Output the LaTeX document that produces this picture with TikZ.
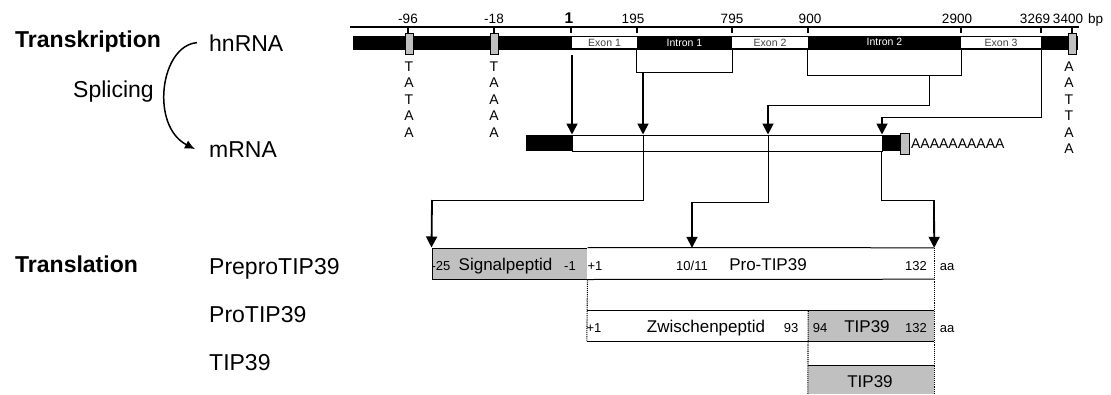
\documentclass[tikz,border=0pt]{standalone}
\usepackage{fontspec}
\setmainfont{Liberation Sans}
\usepackage{xcolor}
\usepackage{tikz}
\usetikzlibrary{positioning, arrows.meta}
\definecolor{boxgray}{RGB}{192,192,192}

\begin{document}
\begin{tikzpicture}[
    x=1pt, y=-1pt,
    lbl/.style={anchor=base west, inner sep=0pt, font=\fontsize{23}{27}\selectfont},
    headlbl/.style={anchor=base west, inner sep=0pt, font=\fontsize{23}{27}\selectfont\bfseries},
    bpnum/.style={anchor=base, inner sep=0pt, font=\fontsize{13.5}{16}\selectfont},
    bar/.style={fill=black, inner sep=0pt, minimum height=14pt},
    exon/.style={fill=white, inner sep=0pt, minimum height=11pt, text=black!75, font=\fontsize{10.5}{12}\selectfont},
    intron/.style={inner sep=0pt, minimum height=11pt, text=white, font=\fontsize{10.5}{12}\selectfont},
    tbox/.style={draw, fill=boxgray, line width=0.8pt, inner sep=0pt, minimum width=8pt, minimum height=21pt},
    tata/.style={anchor=north, align=center, inner sep=0pt, font=\fontsize{14}{16.5}\selectfont},
    pep/.style={anchor=base, inner sep=0pt, font=\fontsize{17}{20}\selectfont},
    num/.style={anchor=base, inner sep=0pt, font=\fontsize{13}{15}\selectfont},
    arr/.style={-{Triangle[length=11pt, width=11pt]}, line width=1.8pt},
    lnk/.style={line width=1pt},
    dotln/.style={densely dotted, line width=1.1pt}
]
    \useasboundingbox (0,0) rectangle (1111,394);

    % left labels
    \node[headlbl] (trans) at (15,47) {Transkription};
    \node[lbl] (hnl) at (209,51) {hnRNA};
    \node[lbl] (spl) at (73,97) {Splicing};
    \node[lbl] (ml) at (209,157) {mRNA};
    \node[headlbl] (transl) at (15,272) {Translation};
    \node[lbl] (ppl) at (209,274) {PreproTIP39};
    \node[lbl] (prl) at (209,322) {ProTIP39};
    \node[lbl] (tpl) at (209,370) {TIP39};
    \draw[-{Latex[length=10pt, width=9pt]}, line width=1.5pt]
        ([xshift=-12pt]hnl.west) .. controls +(-37,3) and +(-45,-23) .. ([xshift=-14pt]ml.west);

    % bp scale
    \draw[line width=1.4pt] (350,27) -- (1079,27);
    \foreach \x/\lx/\t in {408/408/-96, 494/494/-18, 637/633/195, 732/732/795,
                           808/810/900, 961/957/2900, 1041/1035/3269, 1072/1068/3400}{
        \draw[line width=1.2pt] (\x,27) -- (\x,33);
        \node[bpnum] at (\lx,23) {\t};
    }
    \draw[line width=1.2pt] (571,27) -- (571,33);
    \node[bpnum, font=\fontsize{15.5}{17}\selectfont\bfseries] (one) at (569,23) {1};
    \node[bpnum, anchor=base west] (bp) at (1088,23) {bp};

    % hnRNA
    \node[bar, minimum width=725pt] (hn) at (715.5,42.5) {};
    \node[exon, minimum width=65pt] (ex1) at (604.5,42.5) {Exon 1};
    \node[intron, minimum width=95pt] (in1) at (684.5,42.5) {Intron 1};
    \node[exon, minimum width=76pt] (ex2) at (770,42.5) {Exon 2};
    \node[intron, minimum width=153pt] (in2) at (884.5,41.5) {Intron 2};
    \node[exon, minimum width=80pt] (ex3) at (1001,42.5) {Exon 3};
    \node[tbox] (t1) at (409,43.5) {};
    \node[tbox] (t2) at (494,43.5) {};
    \node[tbox] (t3) at (1072,43.5) {};
    \node[tata, below=7pt of t1] (s1) {T\\A\\T\\A\\A};
    \node[tata, below=7pt of t2] (s2) {T\\A\\A\\A\\A};
    \node[tata, below=7pt of t3, xshift=-3pt] (s3) {A\\A\\T\\T\\A\\A};

    % mRNA
    \node[bar, minimum width=46pt, minimum height=16pt] (m5) at (549,143) {};
    \node[draw, fill=white, line width=1pt, inner sep=0pt, minimum width=310pt, minimum height=16pt] (cds) at (727,143) {};
    \node[bar, minimum width=18pt, minimum height=16pt] (m3) at (891,143) {};
    \node[tbox, minimum width=9pt] (pa) at (904.5,143.5) {};
    \node[anchor=west, inner sep=1.5pt, font=\fontsize{14}{16}\selectfont] (tail) at (pa.east) {AAAAAAAAAA};
    \coordinate (j1) at (643,143);
    \coordinate (j2) at (768,143);
    \draw[lnk] (j1 |- cds.north) -- (j1 |- cds.south);
    \draw[lnk] (j2 |- cds.north) -- (j2 |- cds.south);

    % splicing
    \coordinate (k0) at (572,55);
    \draw[arr] (k0) -- (k0 |- cds.north);
    \draw[lnk] (in1.west |- hn.south) -- ++(0,22.5) -| (in1.east |- hn.south);
    \coordinate (k1) at (643,72);
    \draw[arr] (k1) -- (k1 |- cds.north);
    \draw[lnk] (in2.west |- hn.south) -- ++(0,25.5) -| (in2.east |- hn.south);
    \coordinate (b2) at (929,75);
    \coordinate (k2) at (768,105);
    \draw[lnk] (b2) |- (k2);
    \draw[arr] (k2) -- (k2 |- cds.north);
    \coordinate (k3) at (882,117);
    \draw[lnk] (ex3.east |- hn.south) |- (k3);
    \draw[arr] (k3) -- (k3 |- cds.north);

    % peptides
    \node[draw, fill=boxgray, line width=1pt, inner sep=0pt, minimum width=155pt, minimum height=31pt] (sig) at (509.5,263.5) {};
    \node[fill=white, inner sep=0pt, minimum width=347pt, minimum height=31pt] (pro) at (760.5,263.5) {};
    \draw[line width=1pt] (sig.north east) -- (pro.north east);
    \draw[line width=1pt] (sig.south east) -- (pro.south east);
    \node[fill=white, inner sep=0pt, minimum width=221pt, minimum height=30pt] (zw) at (697.5,326) {};
    \node[fill=boxgray, inner sep=0pt, minimum width=126pt, minimum height=30pt] (tip) at (871,326) {};
    \draw[line width=1pt] (zw.north west) -- (tip.north east);
    \draw[line width=1pt] (zw.south west) -- (tip.south east);
    \node[fill=boxgray, inner sep=0pt, minimum width=126pt, minimum height=28pt] (mat) at (871,380) {};
    \draw[line width=1pt] (mat.north west) -- (mat.north east);
    \draw[dotln] (sig.south east) -- (zw.south west);
    \draw[dotln] (zw.north east) -- (mat.south west);
    \draw[dotln] (pro.north east) -- (mat.south east);

    \node[num] (n25) at (441,270) {-25};
    \node[pep] (sigt) at (505.5,270) {Signalpeptid};
    \node[num] (n1a) at (570,270) {-1};
    \node[num] (p1a) at (595,270) {+1};
    \node[num] (n10) at (692,270) {10/11};
    \node[pep] (prot) at (768,270) {Pro-TIP39};
    \node[num] (n132a) at (916,270) {132};
    \node[num] (aa1) at (947,270) {aa};
    \node[num] (p1b) at (594,332) {+1};
    \node[pep] (zwt) at (706,332) {Zwischenpeptid};
    \node[num] (n93) at (791,332) {93};
    \node[num] (n94) at (820,332) {94};
    \node[pep] (tipt) at (867,332) {TIP39};
    \node[num] (n132b) at (916,332) {132};
    \node[num] (aa2) at (947,332) {aa};
    \node[pep] (matt) at (870,387) {TIP39};

    % to protein
    \coordinate (k4) at (432,200);
    \draw[lnk] (j1 |- cds.south) |- (k4);
    \draw[arr] (k4) -- (sig.north west);
    \coordinate (k5) at (692,202);
    \draw[lnk] (j2 |- cds.south) |- (k5);
    \draw[arr] (k5) -- (k5 |- pro.north);
    \coordinate (k6) at (934,200);
    \draw[lnk] (m3.south west) |- (k6);
    \draw[arr] (k6) -- (pro.north east);
\end{tikzpicture}
\end{document}
